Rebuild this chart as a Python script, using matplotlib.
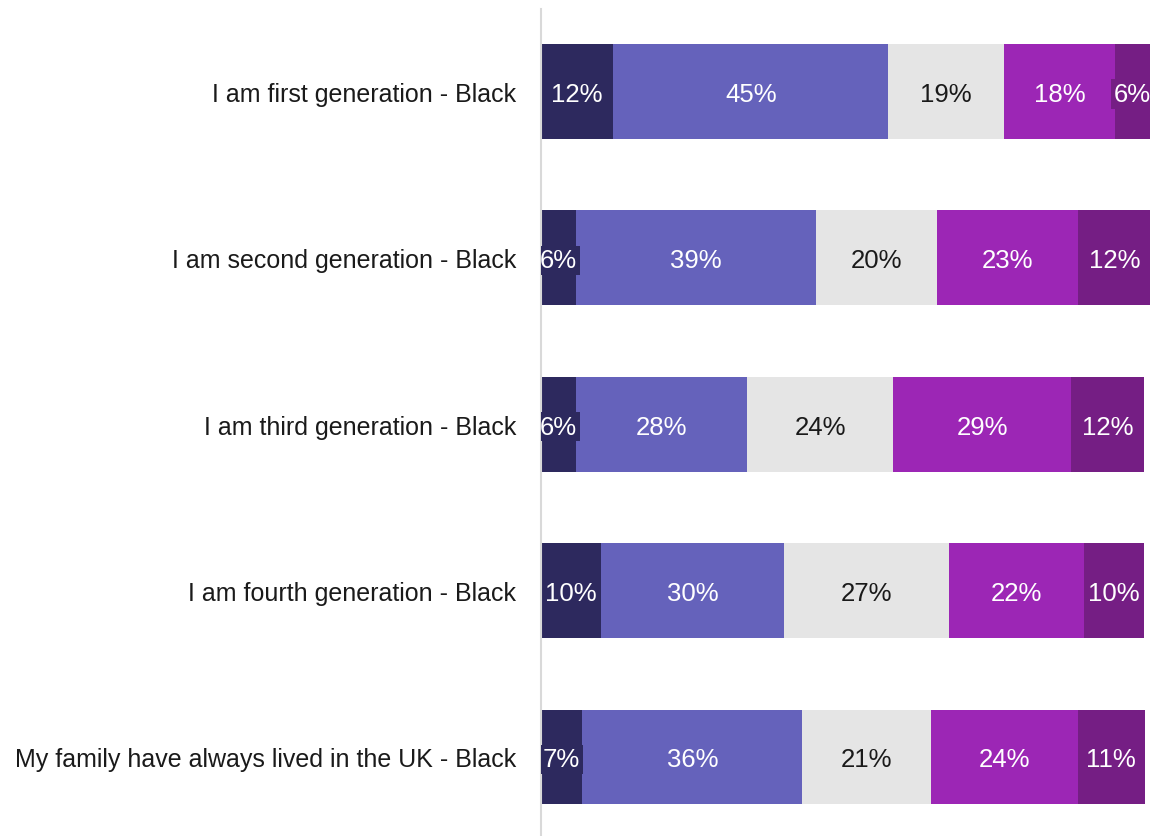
import matplotlib
matplotlib.use("Agg")
import matplotlib.pyplot as plt
import numpy as np

plt.rcParams['font.family'] = ['Liberation Sans', 'DejaVu Sans']

# categories (top to bottom)
categories = [
    "I am first generation - Black",
    "I am second generation - Black",
    "I am third generation - Black",
    "I am fourth generation - Black",
    "My family have always lived in the UK - Black",
]

# segment values (percent)
seg1 = [11.9, 5.8, 5.8, 9.9, 6.8]
seg2 = [45.1, 39.3, 28.1, 30.0, 36.1]
seg3 = [19.1, 19.9, 23.9, 27.1, 21.1]
seg4 = [18.1, 23.2, 29.3, 22.1, 24.2]
seg5 = [5.8, 11.9, 11.9, 9.9, 10.9]

# shown labels
lab1 = ["12%", "6%", "6%", "10%", "7%"]
lab2 = ["45%", "39%", "28%", "30%", "36%"]
lab3 = ["19%", "20%", "24%", "27%", "21%"]
lab4 = ["18%", "23%", "29%", "22%", "24%"]
lab5 = ["6%", "12%", "12%", "10%", "11%"]

colors = ["#2d295e", "#6562bb", "#e5e5e5", "#9c26b5", "#751e84"]
text_colors = ["white", "white", "#1a1a1a", "white", "white"]

fig = plt.figure(figsize=(11.51, 8.37), dpi=100)
ax = fig.add_axes([541 / 1151, 0, 609 / 1151, 827 / 837])

y = np.arange(len(categories))
left = np.zeros(len(categories))
segs = [seg1, seg2, seg3, seg4, seg5]
labs = [lab1, lab2, lab3, lab4, lab5]
for vals, labels, c, tc in zip(segs, labs, colors, text_colors):
    vals = np.array(vals)
    ax.barh(y, vals, left=left, height=0.57, color=c, edgecolor="none")
    for yi, l, v, t in zip(y, left, vals, labels):
        ax.text(l + v / 2, yi + 0.015, t, ha="center", va="center", color=tc, fontsize=18.5,
                bbox=dict(boxstyle="square,pad=0.1", fc=c, ec="none"), clip_on=True)
    left = left + vals

ax.set_xlim(0, 100)
ax.set_ylim(4.475, -0.496)
ax.set_yticks(y)
ax.set_yticklabels(categories, fontsize=18, color="#1a1a1a")
ax.tick_params(axis="y", length=0, pad=18)
ax.set_xticks([])
for s in ["top", "right", "bottom"]:
    ax.spines[s].set_visible(False)
ax.spines["left"].set_color("#d9d9d9")
ax.spines["left"].set_linewidth(1.5)

fig.savefig("out.png", dpi=100)
